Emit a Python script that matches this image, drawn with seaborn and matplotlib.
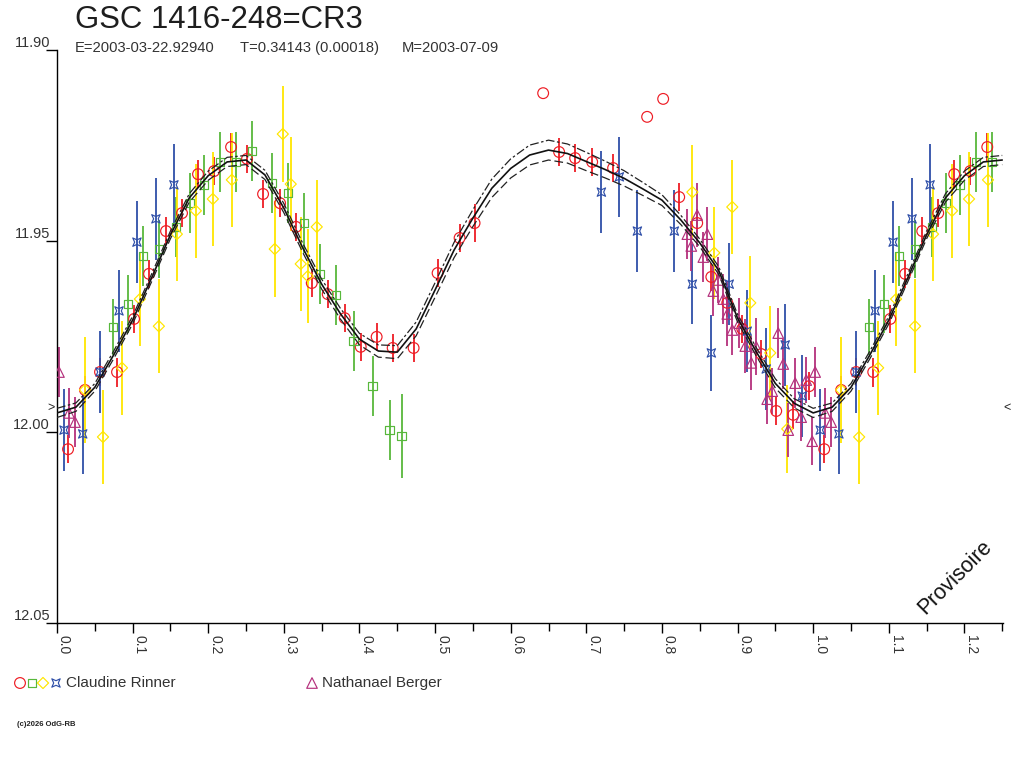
import numpy as np
import pandas as pd
import matplotlib
matplotlib.use("Agg")
import matplotlib.pyplot as plt
import seaborn as sns
from matplotlib.path import Path
from matplotlib.ticker import MultipleLocator, FormatStrFormatter, FixedLocator

# ---------------- data (phase, magnitude, error) ----------------
red_phase = [0.0146, 0.037, 0.0569, 0.0794, 0.1019, 0.1217, 0.1442, 0.1653, 0.1865, 0.2077,
             0.2302, 0.2513, 0.2725, 0.2950, 0.3161, 0.3369, 0.3580, 0.3805, 0.4016, 0.4227,
             0.4439, 0.4716, 0.5033, 0.5324, 0.5522, 0.6429, 0.6640, 0.6852, 0.7077, 0.7354,
             0.7804, 0.8016, 0.8228, 0.8466, 0.8653, 0.8864, 0.9062, 0.9313, 0.9511, 0.9736,
             0.9947]
red_mag = [12.0045, 11.9890, 11.9843, 11.9843, 11.9704, 11.9586, 11.9474, 11.9427, 11.9325, 11.9317,
           11.9254, 11.9285, 11.9377, 11.9401, 11.9463, 11.9610, 11.9639, 11.9702, 11.9777, 11.9751,
           11.9780, 11.9780, 11.9584, 11.9492, 11.9453, 11.9113, 11.9267, 11.9283, 11.9293, 11.9309,
           11.9175, 11.9128, 11.9385, 11.9453, 11.9594, 11.9662, 11.9730, 11.9796, 11.9945, 11.9955,
           11.9880]
red_err = [0.0036, 0.0036, 0.0036, 0.0038, 0.0037, 0.0037, 0.0037, 0.0037, 0.0037, 0.0037,
           0.0037, 0.0037, 0.0037, 0.0036, 0.0036, 0.0037, 0.0037, 0.0036, 0.0036, 0.0036,
           0.0037, 0.0037, 0.0037, 0.0037, 0.0050, 0.0, 0.0037, 0.0037, 0.0037, 0.0036,
           0.0, 0.0, 0.0036, 0.0037, 0.0036, 0.0036, 0.0036, 0.0036, 0.0036, 0.0036,
           0.0036]

green_phase = [0.0740, 0.0938, 0.1136, 0.1347, 0.1572, 0.1757, 0.1942, 0.2153, 0.2365, 0.2576,
               0.2840, 0.3052, 0.3263, 0.3474, 0.3686, 0.3923, 0.4174, 0.4399, 0.4557]
green_mag = [11.9725, 11.9665, 11.9539, 11.9521, 11.9463, 11.9401, 11.9353, 11.9293, 11.9293, 11.9264,
             11.9348, 11.9374, 11.9453, 11.9586, 11.9641, 11.9762, 11.9880, 11.9995, 12.0010]
green_err = [0.0073, 0.0076, 0.0079, 0.0076, 0.0079, 0.0079, 0.0079, 0.0079, 0.0079, 0.0079,
             0.0079, 0.0079, 0.0079, 0.0079, 0.0079, 0.0079, 0.0079, 0.0079, 0.0110]

yellow_phase = [0.037, 0.0608, 0.0859, 0.1096, 0.1347, 0.1585, 0.1836, 0.2061, 0.2312, 0.2986,
                0.2880, 0.3091, 0.3223, 0.3316, 0.3435, 0.8402, 0.8930, 0.8692, 0.9168, 0.9432,
                0.9657]
yellow_mag = [11.9890, 12.0013, 11.9832, 11.9652, 11.9723, 11.9482, 11.9421, 11.9390, 11.9340, 11.9220,
              11.9521, 11.9351, 11.9560, 11.9592, 11.9463, 11.9372, 11.9411, 11.9531, 11.9662, 11.9793,
              11.9992]
yellow_err = [0.0140, 0.0123, 0.0123, 0.0123, 0.0123, 0.0123, 0.0123, 0.0123, 0.0123, 0.0126,
              0.0126, 0.0124, 0.0123, 0.0123, 0.0123, 0.0124, 0.0123, 0.0121, 0.0123, 0.0123,
              0.0115]

blue_phase = [0.0093, 0.034, 0.0569, 0.0820, 0.1057, 0.1308, 0.1546, 0.7199, 0.7437, 0.7675,
              0.8164, 0.8402, 0.8653, 0.8890, 0.9128, 0.9379, 0.9630, 0.9855]
blue_mag = [11.9995, 12.0005, 11.9843, 11.9683, 11.9503, 11.9442, 11.9353, 11.9372, 11.9332, 11.9474,
            11.9474, 11.9613, 11.9793, 11.9613, 11.9736, 11.9835, 11.9772, 11.9906]
blue_err = [0.0107, 0.0105, 0.0107, 0.0107, 0.0107, 0.0107, 0.0107, 0.0107, 0.0105, 0.0107,
            0.0107, 0.0105, 0.0100, 0.0107, 0.0107, 0.0107, 0.0107, 0.0107]

magenta_phase = [0.0026, 0.0159, 0.0238, 0.8466, 0.8336, 0.8600, 0.8388, 0.8547, 0.8745, 0.8679,
                 0.8811, 0.8864, 0.8930, 0.9022, 0.9102, 0.9247, 0.9181, 0.9538, 0.9604, 0.9458,
                 0.9392, 0.9670, 0.9762, 0.9841, 0.9908, 0.9987]
magenta_mag = [11.9843, 11.9950, 11.9974, 11.9432, 11.9482, 11.9482, 11.9513, 11.9542, 11.9602, 11.9631,
               11.9652, 11.9691, 11.9733, 11.9715, 11.9775, 11.9777, 11.9819, 11.9741, 11.9822, 11.9893,
               11.9914, 11.9995, 11.9872, 11.9961, 11.9864, 12.0024]
magenta_err = [0.0065, 0.0066, 0.0065, 0.0085, 0.0065, 0.0070, 0.0065, 0.0065, 0.0060, 0.0065,
               0.0065, 0.0085, 0.0065, 0.0065, 0.0070, 0.0075, 0.0070, 0.0065, 0.0065, 0.0060,
               0.0065, 0.0070, 0.0065, 0.0063, 0.0060, 0.0063]

# fitted light curve (phase 0..1) and its uncertainty band
curve_phase = [0.000, 0.025, 0.050, 0.075, 0.100, 0.125, 0.150, 0.175, 0.200, 0.225,
               0.250, 0.275, 0.300, 0.325, 0.350, 0.375, 0.400, 0.425, 0.450, 0.475,
               0.500, 0.525, 0.550, 0.575, 0.600, 0.625, 0.650, 0.675, 0.700, 0.725,
               0.750, 0.775, 0.800, 0.825, 0.850, 0.875, 0.900, 0.925, 0.950, 0.975,
               1.000]
curve_mag = [11.9950, 11.9935, 11.9883, 11.9798, 11.9707, 11.9597, 11.9484, 11.9387, 11.9329, 11.9293,
             11.9288, 11.9327, 11.9414, 11.9518, 11.9613, 11.9691, 11.9757, 11.9788, 11.9791, 11.9730,
             11.9628, 11.9524, 11.9440, 11.9362, 11.9310, 11.9275, 11.9262, 11.9271, 11.9292, 11.9313,
             11.9336, 11.9364, 11.9393, 11.9445, 11.9505, 11.9577, 11.9702, 11.9791, 11.9873, 11.9925,
             11.9950]
curve_band = [0.0012, 0.0011, 0.0010, 0.0010, 0.0010, 0.0010, 0.0010, 0.0011, 0.0012, 0.0012,
              0.0012, 0.0012, 0.0012, 0.0012, 0.0013, 0.0014, 0.0015, 0.0016, 0.0017, 0.0018,
              0.0019, 0.0020, 0.0022, 0.0024, 0.0025, 0.0026, 0.0026, 0.0025, 0.0024, 0.0022,
              0.0020, 0.0017, 0.0014, 0.0012, 0.0010, 0.0010, 0.0010, 0.0011, 0.0012, 0.0012,
              0.0012]

x_ticks = [0.0, 0.1, 0.2, 0.3, 0.4, 0.5, 0.6, 0.7, 0.8, 0.9, 1.0, 1.1, 1.2]
y_ticks = [11.90, 11.95, 12.00, 12.05]
mean_level = 11.9937

title = "GSC 1416-248=CR3"
sub_e = "E=2003-03-22.92940"
sub_t = "T=0.34143 (0.00018)"
sub_m = "M=2003-07-09"
observer1 = "Claudine Rinner"
observer2 = "Nathanael Berger"

COL_RED = "#ee1c24"
COL_GREEN = "#58b83c"
COL_YELLOW = "#ffe600"
COL_BLUE = "#2f4fa8"
COL_MAG = "#b4307c"

# ---------------- style ----------------
sns.set_theme(style="white")
plt.rcParams["font.family"] = ["Liberation Sans", "DejaVu Sans"]

W, H = 1024, 768
fig = plt.figure(figsize=(W / 100, H / 100), dpi=100)
fig.patch.set_facecolor("white")
ax = fig.add_axes([57 / W, 1 - 623 / H, (1003 - 57) / W, (623 - 50) / H])
ax.set_facecolor("white")

XMAX = 1.251

# custom "currency sign" like marker
cur_verts = [(-1, -1), (0, -0.55), (1, -1), (0.55, 0), (1, 1), (0, 0.55), (-1, 1), (-0.55, 0), (-1, -1)]
cur_codes = [Path.MOVETO] + [Path.LINETO] * 7 + [Path.CLOSEPOLY]
cur_marker = Path(cur_verts, cur_codes)


def extend(ph, mg, er):
    ph = np.asarray(ph, float)
    mg = np.asarray(mg, float)
    er = np.asarray(er, float)
    sel = ph + 1.0 <= XMAX
    return (np.concatenate([ph, ph[sel] + 1.0]),
            np.concatenate([mg, mg[sel]]),
            np.concatenate([er, er[sel]]))


def draw_series(ph, mg, er, color, marker, size, z):
    P, M, E = extend(ph, mg, er)
    df = pd.DataFrame({"phase": P, "mag": M, "err": E})
    bars = df[df["err"] > 0]
    ax.errorbar(bars["phase"], bars["mag"], yerr=bars["err"], fmt="none",
                ecolor=color, elinewidth=1.3, capsize=0, zorder=z)
    sns.scatterplot(data=df, x="phase", y="mag", ax=ax, marker=marker, s=size,
                    color=color, facecolor="none", edgecolor=color, linewidth=0.85,
                    zorder=z + 0.5, legend=False)


draw_series(red_phase, red_mag, red_err, COL_RED, "o", 60, 2)
draw_series(green_phase, green_mag, green_err, COL_GREEN, "s", 36, 2.1)
draw_series(yellow_phase, yellow_mag, yellow_err, COL_YELLOW, "D", 32, 2.2)
draw_series(blue_phase, blue_mag, blue_err, COL_BLUE, cur_marker, 36, 2.3)
draw_series(magenta_phase, magenta_mag, magenta_err, COL_MAG, "^", 58, 2.4)

# light curve
cp = np.asarray(curve_phase)
cm = np.asarray(curve_mag)
cb = np.asarray(curve_band)
sel = (cp > 0) & (cp + 1.0 <= XMAX + 0.02)
cp2 = np.concatenate([cp, cp[sel] + 1.0])
cm2 = np.concatenate([cm, cm[sel]])
cb2 = np.concatenate([cb, cb[sel]])
ax.plot(cp2, cm2, color="#111111", lw=1.2, zorder=5)
ax.plot(cp2, cm2 - cb2, color="#222222", lw=0.9, zorder=5, dashes=(7, 2, 2, 2))
ax.plot(cp2, cm2 + cb2, color="#222222", lw=0.9, zorder=5, dashes=(7, 3))

# axes
ax.set_xlim(0, XMAX)
ax.set_ylim(12.05, 11.90)
ax.xaxis.set_major_locator(FixedLocator(x_ticks))
ax.xaxis.set_minor_locator(MultipleLocator(0.05))
ax.xaxis.set_major_formatter(FormatStrFormatter("%.1f"))
ax.yaxis.set_major_locator(FixedLocator(y_ticks))
ax.yaxis.set_major_formatter(FormatStrFormatter("%.2f"))
ax.set_xlabel("")
ax.set_ylabel("")
for side in ["top", "right"]:
    ax.spines[side].set_visible(False)
for side in ["left", "bottom"]:
    ax.spines[side].set_color("black")
    ax.spines[side].set_linewidth(1.0)
ax.grid(False)
ax.tick_params(axis="x", which="major", direction="out", length=7.2, width=1, color="black",
               bottom=True, pad=1.5, labelsize=10, labelcolor="#333333")
ax.tick_params(axis="x", which="minor", direction="out", length=6.0, width=1, color="black", bottom=True)
ax.tick_params(axis="y", which="major", direction="out", length=7.6, width=1, color="black",
               left=True, pad=-2.6, labelsize=10.5, labelcolor="#333333")
for lab in ax.get_xticklabels():
    lab.set_rotation(-90)
    lab.set_ha("left")
    lab.set_va("top")
for lab in ax.get_yticklabels():
    lab.set_va("bottom")
    lab.set_ha("right")

# level markers
ax.text(-6 / 946, mean_level, ">", transform=ax.get_yaxis_transform(), ha="center", va="center",
        fontsize=9, color="#222222", clip_on=False)
ax.text(1 + 4 / 946, mean_level, "<", transform=ax.get_yaxis_transform(), ha="center", va="center",
        fontsize=9, color="#222222", clip_on=False)

# Provisoire stamp
fig.text(955 / W, 1 - 577 / H, "Provisoire", rotation=45, ha="center", va="center",
         fontsize=15.5, color="#111111")

# titles
fig.text(75 / W, 1 - 20 / H, title, fontsize=22.4, color="#1e1e1e", ha="left", va="center")
fig.text(75 / W, 1 - 48 / H, sub_e, fontsize=10.6, color="#333333", ha="left", va="center")
fig.text(240 / W, 1 - 48 / H, sub_t, fontsize=10.6, color="#333333", ha="left", va="center")
fig.text(402 / W, 1 - 48 / H, sub_m, fontsize=10.6, color="#333333", ha="left", va="center")

# legend (pixel-space overlay)
lax = fig.add_axes([0, 0, 1, 1], zorder=10)
lax.set_xlim(0, W)
lax.set_ylim(H, 0)
lax.axis("off")
lax.patch.set_alpha(0)
leg_y = 683
lax.scatter([20], [leg_y], s=60, marker="o", facecolor="none", edgecolor=COL_RED, linewidth=0.85)
lax.scatter([32], [leg_y], s=36, marker="s", facecolor="none", edgecolor=COL_GREEN, linewidth=0.85)
lax.scatter([43], [leg_y], s=32, marker="D", facecolor="none", edgecolor=COL_YELLOW, linewidth=0.85)
lax.scatter([56], [leg_y], s=36, marker=cur_marker, facecolor="none", edgecolor=COL_BLUE, linewidth=0.85)
lax.text(66, leg_y, observer1, fontsize=11, color="#333333", ha="left", va="center")
lax.scatter([312], [leg_y], s=58, marker="^", facecolor="none", edgecolor=COL_MAG, linewidth=0.85)
lax.text(322, leg_y, observer2, fontsize=11, color="#333333", ha="left", va="center")
lax.text(17, 725, "(c)2026 OdG-RB", fontsize=5.5, color="#222222", ha="left", va="center",
         fontweight="bold")

fig.savefig("out.png", dpi=100, facecolor="white")
